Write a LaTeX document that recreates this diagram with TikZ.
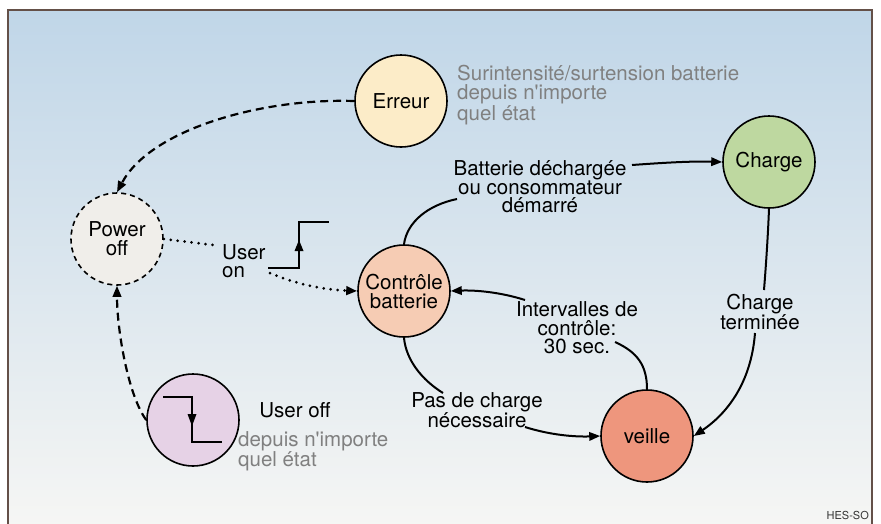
\documentclass[tikz,border=0pt]{standalone}
\usepackage{fontspec}
\setmainfont{TeX Gyre Heros}
\usetikzlibrary{arrows.meta}
\definecolor{bgtop}{RGB}{192,214,232}
\definecolor{bgmid}{RGB}{222,231,238}
\definecolor{bgbot}{RGB}{246,246,244}
\definecolor{framec}{RGB}{100,80,72}
\definecolor{errc}{RGB}{252,236,200}
\definecolor{offc}{RGB}{240,238,234}
\definecolor{ctrlc}{RGB}{246,204,180}
\definecolor{chgc}{RGB}{190,216,160}
\definecolor{veilc}{RGB}{238,150,125}
\definecolor{uoffc}{RGB}{230,210,230}
\definecolor{grayt}{RGB}{128,128,128}
\begin{document}
\begin{tikzpicture}[x=1pt,y=-1pt,
  st/.style={circle, draw=black, line width=1.6pt, minimum size=92pt, inner sep=0pt, align=center,
    font=\fontsize{20.5}{19}\selectfont},
  lbl/.style={align=center, inner sep=1pt, font=\fontsize{20.5}{18.5}\selectfont},
  graylbl/.style={align=left, inner sep=0pt, text=grayt, anchor=west, font=\fontsize{20.5}{19}\selectfont},
  tipc/.style={-{Triangle[length=11pt,width=8.5pt]}},
  solidc/.style={line width=2pt, black},
  dashc/.style={line width=2.2pt, black, dash pattern=on 8pt off 5pt},
  dotc/.style={line width=3pt, black, line cap=round, dash pattern=on 0pt off 7pt},
  stepc/.style={line width=2.3pt, black}
]
\useasboundingbox (0,0) rectangle (881,523);
\shade[top color=bgtop, middle color=bgmid, bottom color=bgbot] (8,10) rectangle (872,530);
\draw[framec, line width=1.3pt] (8,530) -- (8,10) -- (872,10) -- (872,530);

% states
\node[st, fill=errc] (err) at (401,101) {Erreur};
\node[st, fill=offc, dash pattern=on 5pt off 4pt] (off) at (117,239) {Power\\off};
\node[st, fill=ctrlc] (ctrl) at (404,291) {Contrôle\\batterie};
\node[st, fill=chgc] (chg) at (769,162) {Charge};
\node[st, fill=veilc] (veil) at (647,436) {veille};
\node[st, fill=uoffc] (uoff) at (193,420) {};

% labels
\node[graylbl] (gerr) at (457,95) {Surintensité/surtension batterie\\depuis n\textquotesingle importe\\quel état};
\node[graylbl] (guoff) at (238,451) {depuis n\textquotesingle importe\\quel état};
\node[lbl] (luoff) at (295,410) {User off};
\node[lbl, align=left, anchor=west] (luon) at (221,261) {User\\on};
\node[lbl] (lbat) at (540,187) {Batterie déchargée\\ou consommateur\\démarré};
\node[lbl] (lcht) at (760,312) {Charge\\terminée};
\node[lbl] (lint) at (577,328) {Intervalles de\\contrôle:\\30 sec.};
\node[lbl] (lpas) at (477,410) {Pas de charge\\nécessaire};
\node[anchor=north east, inner sep=0pt, font=\fontsize{11}{11}\selectfont, text=black!80] (hes) at (869,511) {HES-SO};

% step symbols
\draw[stepc] (268,268) -- (299,268) -- (299,222) -- (329,222);
\fill (294.5,251) -- (303.5,251) -- (299,240) -- cycle;
\draw[stepc] (163,397) -- (192,397) -- (192,442) -- (222,442);
\fill (187.5,414) -- (196.5,414) -- (192,426) -- cycle;

% helper coordinates
\coordinate (d1) at (213,245);
\coordinate (d2) at (270,273);
\coordinate (b1) at (457,199);
\coordinate (b2) at (632,165);
\coordinate (c1) at (764,290);
\coordinate (c2) at (755,333);
\coordinate (i1) at (615,342);
\coordinate (i2) at (525,300);
\coordinate (p1) at (443,393);
\coordinate (p2) at (525,427);

% dashed connectors
\draw[dashc, tipc] (err.west) .. controls (260,98) and (150,130) .. (off.north);
\draw[dashc, tipc] (uoff.west) .. controls (128,395) and (117,330) .. (off.south);

% dotted connectors
\draw[dotc] (off.east) -- (d1);
\draw[dotc, tipc] (d2) .. controls (300,286) and (330,290) .. (ctrl.west);

% solid connectors
\draw[solidc] (ctrl.north) .. controls (407,222) and (428,205) .. (b1);
\draw[solidc, tipc] (b2) .. controls (660,163) and (690,161) .. (chg.west);
\draw[solidc] (chg.south) .. controls (768,235) and (766,265) .. (c1);
\draw[solidc, tipc] (c2) .. controls (751,385) and (725,415) .. (veil.east);
\draw[solidc] (veil.north) .. controls (647,365) and (637,352) .. (i1);
\draw[solidc, tipc] (i2) .. controls (500,292) and (475,290) .. (ctrl.east);
\draw[solidc] (ctrl.south) .. controls (406,360) and (422,380) .. (p1);
\draw[solidc, tipc] (p2) .. controls (550,435) and (575,437) .. (veil.west);
\end{tikzpicture}
\end{document}
